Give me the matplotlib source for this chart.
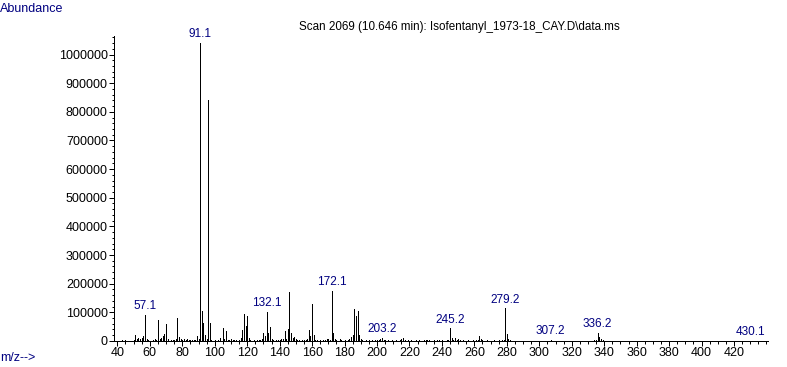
import matplotlib
matplotlib.use("Agg")
import matplotlib.pyplot as plt
from matplotlib.ticker import MultipleLocator, FuncFormatter

plt.rcParams['font.family'] = ['Liberation Sans', 'DejaVu Sans']

# peaks (m/z, abundance)
mz = [43, 45, 50, 51, 52, 53, 54, 55, 56, 57, 58, 59, 62, 63, 64, 65, 66, 67, 68, 69,
      70, 71, 73, 74, 75, 76, 77, 78, 79, 80, 81, 82, 83, 84, 85, 86, 87, 88, 89, 90,
      91, 92, 93, 94, 95, 96, 97, 98, 100, 102, 103, 105, 106, 107, 108, 109, 110, 111,
      112, 113, 115, 116, 117, 118, 119, 120, 121, 122, 124, 126, 127, 128, 129, 130,
      131, 132, 133, 134, 135, 136, 138, 139, 140, 141, 142, 143, 144, 145, 146, 147,
      148, 149, 150, 151, 152, 154, 155, 156, 157, 158, 159, 160, 161, 162, 163, 165,
      167, 168, 169, 170, 171, 172, 173, 174, 175, 177, 178, 180, 182, 183, 184, 185,
      186, 187, 188, 189, 190, 191, 193, 195, 197, 199, 200, 201, 202, 203, 204, 205,
      207, 209, 212, 214, 215, 216, 217, 219, 221, 224, 226, 229, 230, 231, 232, 235,
      237, 238, 240, 243, 244, 245, 246, 247, 248, 249, 250, 251, 253, 256, 259, 261,
      262, 263, 264, 265, 268, 272, 275, 277, 278, 279, 280, 281, 282, 285, 290, 297,
      303, 307, 311, 316, 321, 329, 334, 335, 336, 337, 338, 339, 342, 350, 365, 430]
abundance = [3000, 2000, 4000, 21000, 6000, 10000, 8000, 10000, 17000, 91000, 8000, 3000,
             3000, 8000, 5000, 73000, 6000, 12000, 17000, 23000,
             59000, 7000, 3000, 4000, 5000, 6000, 80000, 15000, 6000, 4000, 6000, 5000,
             7000, 5000, 3000, 4000, 2000, 4000, 17000, 6000,
             1040000, 103000, 62000, 21000, 6000, 840000, 62000, 5000, 2000, 4000, 12000,
             45000, 8000, 33000, 5000, 3000, 8000, 4000,
             3000, 3000, 5000, 10000, 38000, 94000, 52000, 87000, 10000, 3000, 2000, 3000,
             4000, 5000, 8000, 29000,
             17000, 101000, 27000, 50000, 8000, 3000, 4000, 3000, 5000, 6000, 8000, 33000,
             8000, 41000, 171000, 27000,
             12000, 15000, 8000, 5000, 3000, 4000, 3000, 4000, 6000, 38000, 17000, 130000,
             21000, 5000, 3000, 3000,
             5000, 4000, 6000, 8000, 5000, 175000, 27000, 8000, 5000, 8000, 3000, 3000,
             4000, 6000, 14000, 20000,
             110000, 88000, 105000, 21000, 8000, 5000, 4000, 3000, 3000, 4000, 3000, 5000,
             6000, 10000, 5000, 3000,
             2000, 3000, 2000, 4000, 6000, 9000, 4000, 3000, 3000, 2000, 3000, 3000, 4000,
             5000, 3000, 3000,
             2000, 3000, 2000, 3000, 5000, 44000, 9000, 5000, 12000, 5000, 6000, 3000, 2000,
             2000, 2000, 3000,
             5000, 16000, 8000, 4000, 2000, 2000, 3000, 3000, 5000, 114000, 24000, 6000,
             2000, 1500, 1500, 1500,
             1500, 3000, 1500, 1000, 1500, 1500, 4000, 5000, 29000, 13000, 6000, 3000,
             1500, 1000, 1000, 1500]

# labelled peaks
label_mz = [57, 91, 132, 172, 203, 245, 279, 307, 336, 430]
label_text = ["57.1", "91.1", "132.1", "172.1", "203.2", "245.2", "279.2", "307.2",
              "336.2", "430.1"]

navy = "#000080"

fig = plt.figure(figsize=(7.87, 3.67), dpi=100)
ax = fig.add_axes([0.145, 0.071, 0.831, 0.831])

ax.vlines(mz, 0, abundance, colors="black", linewidth=0.72, antialiased=False)

peak = dict(zip(mz, abundance))
for m, t in zip(label_mz, label_text):
    ax.annotate(t, (m, peak[m]), xytext=(0, 2), textcoords="offset points",
                ha="center", va="bottom", color=navy, fontsize=8.5)

ax.set_xlim(38, 441)
ax.set_ylim(0, 1065000)
ax.xaxis.set_minor_locator(MultipleLocator(5))
ax.yaxis.set_major_locator(MultipleLocator(100000))
ax.yaxis.set_minor_locator(MultipleLocator(20000))
ax.yaxis.set_major_formatter(FuncFormatter(lambda v, p: "%d" % v))
ax.set_xticks(range(40, 421, 20))

for s in ["top", "right"]:
    ax.spines[s].set_visible(False)
ax.spines["left"].set_linewidth(0.72)
ax.spines["bottom"].set_linewidth(0.72)
ax.tick_params(which="major", length=3.5, width=0.72, labelsize=9, pad=1)
ax.tick_params(which="minor", length=1.8, width=0.72)

fig.text(0.584, 0.926, "Scan 2069 (10.646 min): Isofentanyl_1973-18_CAY.D\\data.ms",
         fontsize=8.4, ha="center", va="center")
fig.text(0.0, 0.975, "Abundance", color=navy, fontsize=9, va="center", ha="left")
fig.text(0.0, 0.025, "m/z-->", color=navy, fontsize=9, va="center", ha="left")

fig.savefig("out.png", dpi=100)
